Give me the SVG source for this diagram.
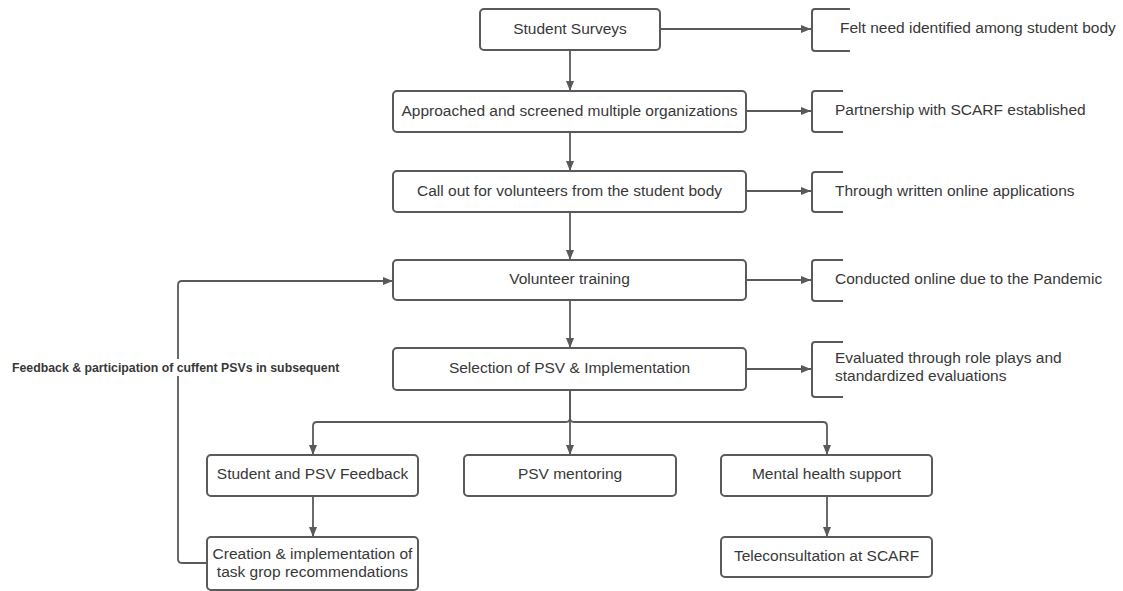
<svg xmlns="http://www.w3.org/2000/svg" width="1123" height="591" viewBox="0 0 1123 591">
<style>
.box{fill:#fff;stroke:#5a5a5a;stroke-width:2}
.br{fill:none;stroke:#5a5a5a;stroke-width:2}
.c{fill:none;stroke:#5a5a5a;stroke-width:1.8}
.t{font-family:"Liberation Sans",Arial,sans-serif;font-size:15.5px;fill:#383838}
.m{text-anchor:middle}
.lbl{font-family:"Liberation Sans",Arial,sans-serif;font-size:12.3px;font-weight:bold;fill:#383838}
</style>
<defs>
<marker id="ah" viewBox="0 0 10 10" refX="10" refY="5" markerWidth="10" markerHeight="10" markerUnits="userSpaceOnUse" orient="auto">
<path d="M0,1 L10,5 L0,9 Z" fill="#5a5a5a"/>
</marker>
</defs>
<rect width="1123" height="591" fill="#fff"/>
<g id="connectors">
<path class="c" d="M570,50 V91" marker-end="url(#ah)"/>
<path class="c" d="M570,132 V171" marker-end="url(#ah)"/>
<path class="c" d="M570,212 V260" marker-end="url(#ah)"/>
<path class="c" d="M570,300 V348" marker-end="url(#ah)"/>
<path class="c" d="M570,390 V455" marker-end="url(#ah)"/>
<path class="c" d="M570,390 V418 Q570,422 566,422 H317 Q313,422 313,426 V455" marker-end="url(#ah)"/>
<path class="c" d="M570,418 Q570,422 574,422 H823 Q827,422 827,426 V455" marker-end="url(#ah)"/>
<path class="c" d="M313,496 V537" marker-end="url(#ah)"/>
<path class="c" d="M827,496 V537" marker-end="url(#ah)"/>
<path class="c" d="M660,29 H811" marker-end="url(#ah)"/>
<path class="c" d="M746,111 H811" marker-end="url(#ah)"/>
<path class="c" d="M746,191 H811" marker-end="url(#ah)"/>
<path class="c" d="M746,280 H811" marker-end="url(#ah)"/>
<path class="c" d="M746,369 H811" marker-end="url(#ah)"/>
<path class="c" d="M207,563 H182 Q178,563 178,559 V285 Q178,281 182,281 H393" marker-end="url(#ah)"/>
<rect x="10" y="359" width="338" height="17" fill="#fff"/>
<text class="lbl" x="12" y="372">Feedback &amp; participation of cuffent PSVs in subsequent</text>
</g>
<g id="n1"><rect class="box" x="480" y="9" width="180" height="41" rx="4"/><text class="t m" x="570" y="34">Student Surveys</text></g>
<g id="n2"><rect class="box" x="393" y="91" width="353" height="41" rx="4"/><text class="t m" x="569.5" y="116">Approached and screened multiple organizations</text></g>
<g id="n3"><rect class="box" x="393" y="171" width="353" height="41" rx="4"/><text class="t m" x="569.5" y="196">Call out for volunteers from the student body</text></g>
<g id="n4"><rect class="box" x="393" y="260" width="353" height="40" rx="4"/><text class="t m" x="569.5" y="284">Volunteer training</text></g>
<g id="n5"><rect class="box" x="393" y="348" width="353" height="42" rx="4"/><text class="t m" x="569.5" y="373">Selection of PSV &amp; Implementation</text></g>
<g id="n6"><rect class="box" x="207" y="455" width="211" height="41" rx="4"/><text class="t m" x="312.5" y="479">Student and PSV Feedback</text></g>
<g id="n7"><rect class="box" x="464" y="455" width="212" height="41" rx="4"/><text class="t m" x="570" y="479">PSV mentoring</text></g>
<g id="n8"><rect class="box" x="721" y="455" width="211" height="41" rx="4"/><text class="t m" x="826.5" y="479">Mental health support</text></g>
<g id="n9"><rect class="box" x="207" y="537" width="211" height="53" rx="4"/><text class="t m" x="312.5" y="559">Creation &amp; implementation of</text><text class="t m" x="312.5" y="577">task grop recommendations</text></g>
<g id="n10"><rect class="box" x="721" y="537" width="211" height="40" rx="4"/><text class="t m" x="826.5" y="561">Teleconsultation at SCARF</text></g>
<g id="a1"><path class="br" d="M850,9 H815 Q812,9 812,12 V48 Q812,51 815,51 H850"/><text class="t" x="840" y="33">Felt need identified among student body</text></g>
<g id="a2"><path class="br" d="M843,91 H815 Q812,91 812,94 V129 Q812,132 815,132 H843"/><text class="t" x="835" y="115">Partnership with SCARF established</text></g>
<g id="a3"><path class="br" d="M843,172 H815 Q812,172 812,175 V209 Q812,212 815,212 H843"/><text class="t" x="835" y="196">Through written online applications</text></g>
<g id="a4"><path class="br" d="M843,260 H815 Q812,260 812,263 V298 Q812,301 815,301 H843"/><text class="t" x="835" y="284">Conducted online due to the Pandemic</text></g>
<g id="a5"><path class="br" d="M843,342 H815 Q812,342 812,345 V394 Q812,397 815,397 H843"/><text class="t" x="835" y="363">Evaluated through role plays and</text><text class="t" x="835" y="381">standardized evaluations</text></g>
</svg>
